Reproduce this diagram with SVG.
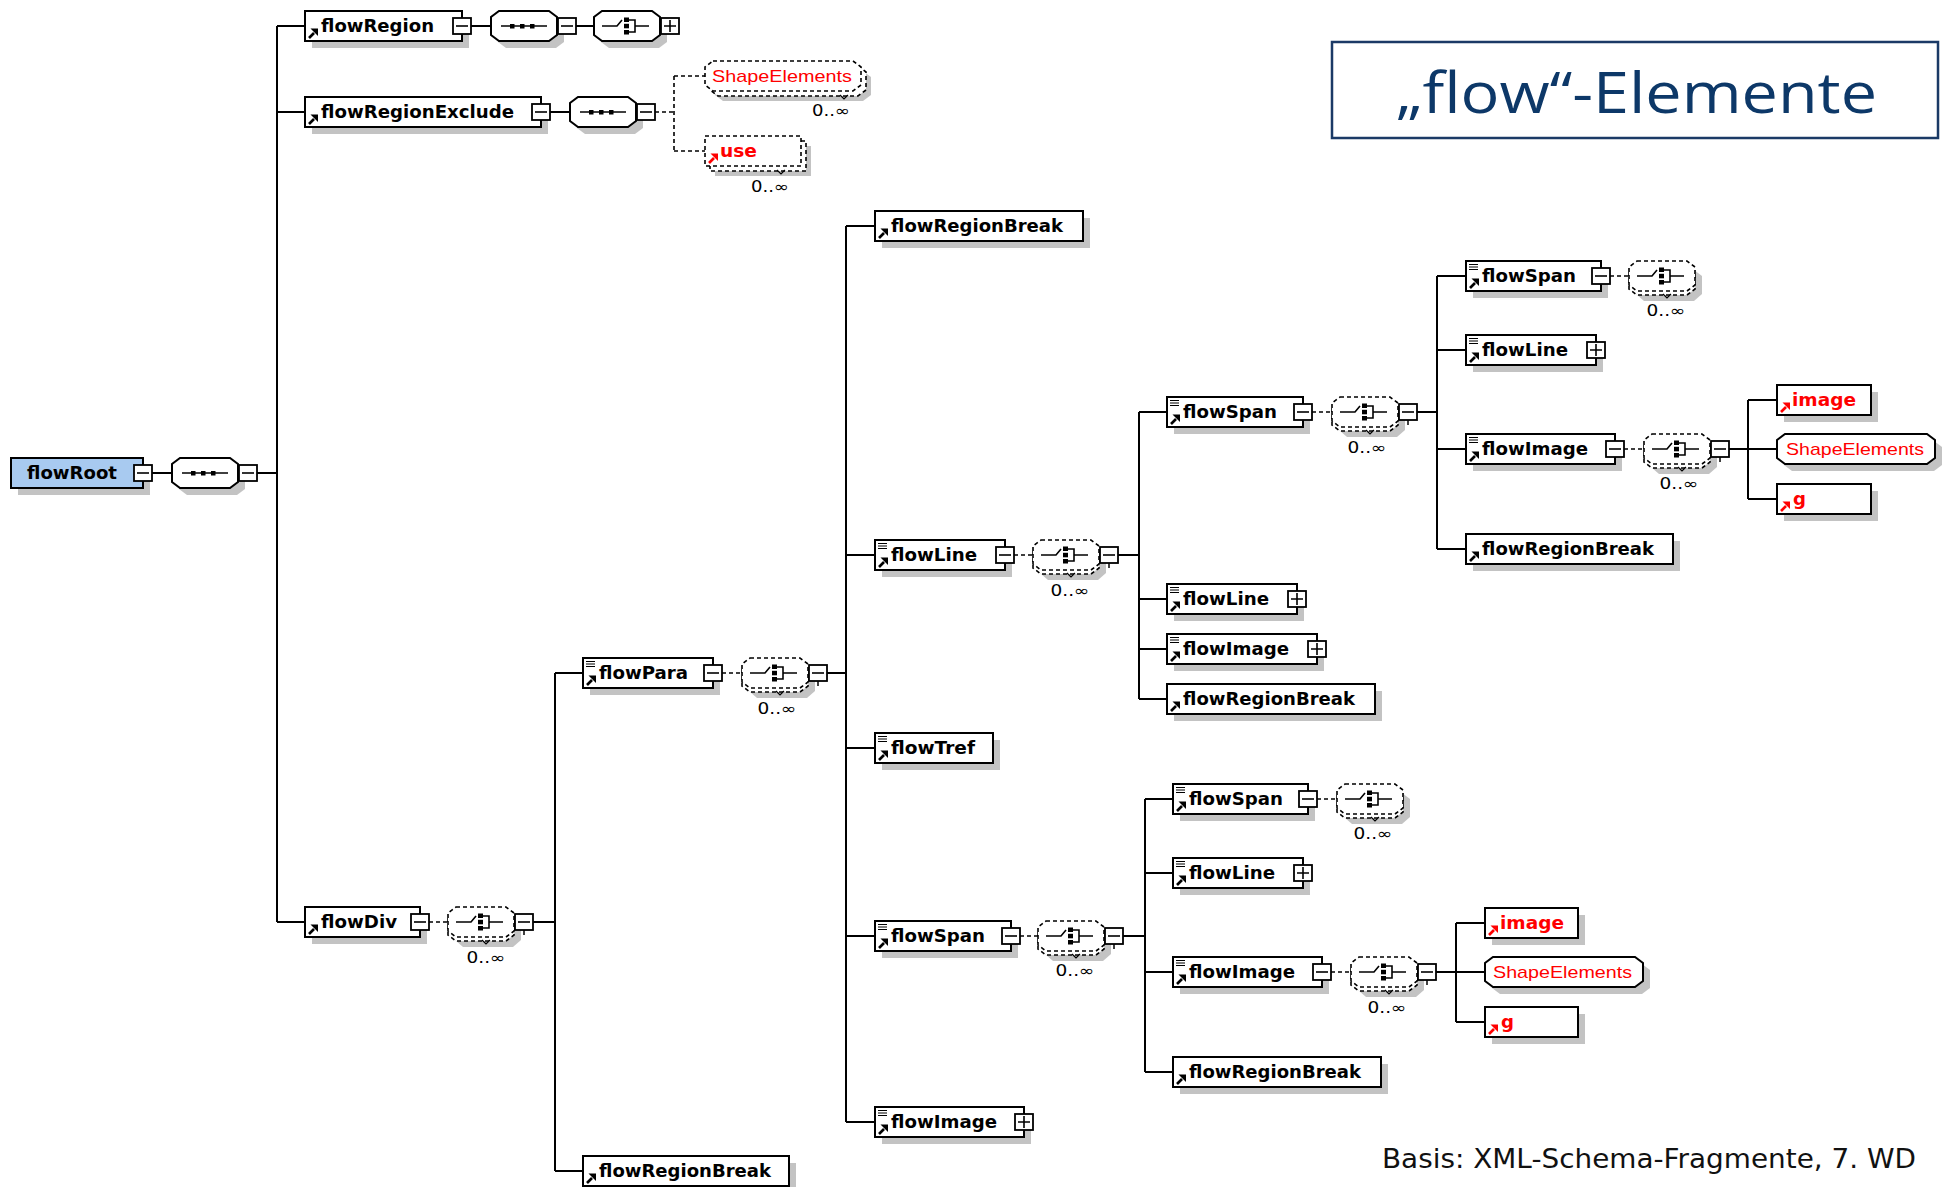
<svg xmlns="http://www.w3.org/2000/svg" width="1946" height="1187" viewBox="0 0 1946 1187">
<style>
.box{fill:#fff;stroke:#000;stroke-width:2}
.dbox{fill:#fff;stroke:#000;stroke-width:1.6;stroke-dasharray:4 3}
.sh{fill:#c3c3c3;stroke:none}
.ln{fill:none;stroke:#000;stroke-width:2}
.dl{fill:none;stroke:#000;stroke-width:1.6;stroke-dasharray:4 3}
.lbl{font-family:"DejaVu Sans",Verdana,sans-serif;font-weight:bold;font-size:17px;fill:#000}
.rl{font-family:"DejaVu Sans",Verdana,sans-serif;font-weight:bold;font-size:17px;fill:#f00}
.se{font-family:"Liberation Sans",Arial,sans-serif;font-size:17px;fill:#f00}
.mul{font-family:"DejaVu Sans",sans-serif;font-size:15px;fill:#000;text-anchor:middle}
</style>
<defs>
 <path id="mix" d="M3,3.5H12M3,6H12M3,8.5H12" stroke="#000" stroke-width="1.2" fill="none"/>
 <g id="arr"><path d="M4,-3L9,-8" stroke="#000" stroke-width="2.6"/><path d="M5.5,-12.5H13V-5Z" fill="#000"/></g>
 <g id="arrR"><path d="M4,-3L9,-8" stroke="#f00" stroke-width="2.6"/><path d="M5.5,-12.5H13V-5Z" fill="#f00"/></g>
 <g id="minus"><rect x="-9" y="-8" width="18" height="16" fill="#fff" stroke="#000" stroke-width="1.8"/><path d="M-6,0H6" stroke="#000" stroke-width="1.6"/></g>
 <g id="plus"><rect x="-9" y="-8" width="18" height="16" fill="#fff" stroke="#000" stroke-width="1.8"/><path d="M-6,0H6M0,-6V6" stroke="#000" stroke-width="1.6"/></g>
 <g id="minusT"><path d="M0,8V13" stroke="#000" stroke-width="1.5"/><rect x="-9" y="-8" width="18" height="16" fill="#fff" stroke="#000" stroke-width="1.8"/><path d="M-6,0H6" stroke="#000" stroke-width="1.6"/></g>
 <g id="solidOct">
  <path class="sh" d="M15,-8H65L73,-2V16L65,22H15L7,16V-2Z"/>
  <path class="box" d="M8,-15H58L66,-9V9L58,15H8L0,9V-9Z"/>
 </g>
 <g id="optOct">
  <path class="sh" d="M15,-6H65L73,0V18L65,25H15L7,18V0Z"/>
  <path class="dbox" d="M8,-11H58L66,-5V13L58,19H8L0,13V-5Z"/>
  <path class="dbox" d="M8,-15H58L66,-9V9L58,15H8L0,9V-9Z"/>
  <path d="M34,18L38,22L42,18" fill="none" stroke="#000" stroke-width="1.2"/>
 </g>
 <g id="seqS"><path d="M10,0H56" stroke="#000" stroke-width="1.6"/><rect x="19" y="-2" width="4.5" height="4.5"/><rect x="29" y="-2" width="4.5" height="4.5"/><rect x="39" y="-2" width="4.5" height="4.5"/></g>
 <g id="choS"><path d="M8,0H23L28,-6M35,-6H41V6H35M41,0H55" fill="none" stroke="#000" stroke-width="1.6"/><rect x="30" y="-8.5" width="5" height="4.5"/><rect x="30" y="-2.2" width="5" height="4.5"/><rect x="30" y="4" width="5" height="4.5"/></g>
</defs>
<rect width="1946" height="1187" fill="#fff"/>

<g id="connectors">
 <path class="ln" d="M152,473H172M257,473H277M277,26V922M277,26H305M277,112H305M277,922H305"/>
 <path class="ln" d="M471,26H491M576,26H594"/>
 <path class="ln" d="M550,112H570"/>
 <path class="dl" d="M655,112H674M674,76V151M674,76H705M674,151H705"/>
 <path class="dl" d="M429,922H448"/>
 <path class="ln" d="M533,922H555M555,673V1171M555,673H583M555,1171H583"/>
 <path class="dl" d="M722,673H742"/>
 <path class="ln" d="M827,673H846M846,226V1122M846,226H875M846,555H875M846,748H875M846,936H875M846,1122H875"/>
 <path class="dl" d="M1014,555H1033"/>
 <path class="ln" d="M1118,555H1139M1139,412V699M1139,412H1167M1139,599H1167M1139,649H1167M1139,699H1167"/>
 <path class="dl" d="M1312,412H1332"/>
 <path class="ln" d="M1417,412H1437M1437,276V549M1437,276H1466M1437,350H1466M1437,449H1466M1437,549H1466"/>
 <path class="dl" d="M1610,276H1629"/>
 <path class="dl" d="M1624,449H1644"/>
 <path class="ln" d="M1729,449H1748M1748,400V499M1748,400H1777M1748,449H1777M1748,499H1777"/>
 <path class="dl" d="M1020,936H1038"/>
 <path class="ln" d="M1123,936H1145M1145,799V1072M1145,799H1173M1145,873H1173M1145,972H1173M1145,1072H1173"/>
 <path class="dl" d="M1317,799H1337"/>
 <path class="dl" d="M1331,972H1351"/>
 <path class="ln" d="M1436,972H1456M1456,923V1022M1456,923H1485M1456,972H1485M1456,1022H1485"/>
</g>

<g id="n-flowRoot"><rect class="sh" x="18" y="465" width="132" height="30"/><rect x="11" y="458" width="132" height="30" fill="#a8caf0" stroke="#000" stroke-width="2"/><text class="lbl" x="27" y="479" textLength="90" lengthAdjust="spacingAndGlyphs">flowRoot</text><use href="#minus" x="143" y="473"/></g>
<g id="c-root-seq"><use href="#solidOct" x="172" y="473"/><use href="#seqS" x="172" y="473"/><use href="#minus" x="248" y="473"/></g>

<g id="n-flowRegion"><rect class="sh" x="312" y="18" width="157" height="30"/><rect class="box" x="305" y="11" width="157" height="30"/><use href="#arr" x="305" y="41"/><text class="lbl" x="321" y="32" textLength="113" lengthAdjust="spacingAndGlyphs">flowRegion</text><use href="#minus" x="462" y="26"/></g>
<g id="c-flowRegion-seq"><use href="#solidOct" x="491" y="26"/><use href="#seqS" x="491" y="26"/><use href="#minus" x="567" y="26"/></g>
<g id="c-flowRegion-choice"><use href="#solidOct" x="594" y="26"/><use href="#choS" x="594" y="26"/><use href="#plus" x="670" y="26"/></g>

<g id="n-flowRegionExclude"><rect class="sh" x="312" y="104" width="236" height="30"/><rect class="box" x="305" y="97" width="236" height="30"/><use href="#arr" x="305" y="127"/><text class="lbl" x="321" y="118" textLength="193" lengthAdjust="spacingAndGlyphs">flowRegionExclude</text><use href="#minus" x="541" y="112"/></g>
<g id="c-flowRegionExclude-seq"><use href="#solidOct" x="570" y="112"/><use href="#seqS" x="570" y="112"/><use href="#minus" x="646" y="112"/></g>

<g id="n-ShapeElements-1">
 <path class="sh" d="M723,71H863L871,77V95L863,101H723L715,95V77Z"/>
 <path class="dbox" d="M718,66H858L866,72V90L858,96H718L710,90V72Z"/>
 <path class="dbox" d="M713,61H853L861,67V85L853,91H713L705,85V67Z"/>
 <path d="M840,95L844,99L848,95" fill="none" stroke="#000" stroke-width="1.2"/>
 <text class="se" x="712" y="82" textLength="140" lengthAdjust="spacingAndGlyphs">ShapeElements</text>
 <text class="mul" x="831" y="116" textLength="38" lengthAdjust="spacingAndGlyphs">0..∞</text>
</g>
<g id="n-use">
 <rect class="sh" x="715" y="146" width="96" height="30"/>
 <rect class="dbox" x="710" y="141" width="96" height="30"/>
 <rect class="dbox" x="705" y="136" width="96" height="30"/>
 <path d="M777,170L781,174L785,170" fill="none" stroke="#000" stroke-width="1.2"/>
 <use href="#arrR" x="705" y="166"/>
 <text class="rl" x="720" y="157" textLength="37" lengthAdjust="spacingAndGlyphs">use</text>
 <text class="mul" x="770" y="192" textLength="38" lengthAdjust="spacingAndGlyphs">0..∞</text>
</g>

<g id="n-flowDiv"><rect class="sh" x="312" y="914" width="115" height="30"/><rect class="box" x="305" y="907" width="115" height="30"/><use href="#arr" x="305" y="937"/><text class="lbl" x="321" y="928" textLength="76" lengthAdjust="spacingAndGlyphs">flowDiv</text><use href="#minus" x="420" y="922"/></g>
<g id="c-flowDiv-choice"><use href="#optOct" x="448" y="922"/><use href="#choS" x="448" y="922"/><use href="#minusT" x="524" y="922"/><text class="mul" x="486" y="963" textLength="39" lengthAdjust="spacingAndGlyphs">0..∞</text></g>

<g id="n-flowPara"><rect class="sh" x="590" y="665" width="130" height="30"/><rect class="box" x="583" y="658" width="130" height="30"/><use href="#mix" x="583" y="658"/><use href="#arr" x="583" y="688"/><text class="lbl" x="599" y="679" textLength="89" lengthAdjust="spacingAndGlyphs">flowPara</text><use href="#minus" x="713" y="673"/></g>
<g id="c-flowPara-choice"><use href="#optOct" x="742" y="673"/><use href="#choS" x="742" y="673"/><use href="#minusT" x="818" y="673"/><text class="mul" x="777" y="714" textLength="39" lengthAdjust="spacingAndGlyphs">0..∞</text></g>

<g id="n-flowRegionBreak-1"><rect class="sh" x="590" y="1163" width="206" height="30"/><rect class="box" x="583" y="1156" width="206" height="30"/><use href="#arr" x="583" y="1186"/><text class="lbl" x="599" y="1177" textLength="172" lengthAdjust="spacingAndGlyphs">flowRegionBreak</text></g>

<g id="n-flowRegionBreak-2"><rect class="sh" x="882" y="218" width="208" height="30"/><rect class="box" x="875" y="211" width="208" height="30"/><use href="#arr" x="875" y="241"/><text class="lbl" x="891" y="232" textLength="172" lengthAdjust="spacingAndGlyphs">flowRegionBreak</text></g>

<g id="n-flowLine-1"><rect class="sh" x="882" y="547" width="130" height="30"/><rect class="box" x="875" y="540" width="130" height="30"/><use href="#mix" x="875" y="540"/><use href="#arr" x="875" y="570"/><text class="lbl" x="891" y="561" textLength="86" lengthAdjust="spacingAndGlyphs">flowLine</text><use href="#minus" x="1005" y="555"/></g>
<g id="c-flowLine-choice"><use href="#optOct" x="1033" y="555"/><use href="#choS" x="1033" y="555"/><use href="#minusT" x="1109" y="555"/><text class="mul" x="1070" y="596" textLength="39" lengthAdjust="spacingAndGlyphs">0..∞</text></g>

<g id="n-flowTref"><rect class="sh" x="882" y="740" width="118" height="30"/><rect class="box" x="875" y="733" width="118" height="30"/><use href="#mix" x="875" y="733"/><use href="#arr" x="875" y="763"/><text class="lbl" x="891" y="754" textLength="84" lengthAdjust="spacingAndGlyphs">flowTref</text></g>

<g id="n-flowSpan-1"><rect class="sh" x="882" y="928" width="136" height="30"/><rect class="box" x="875" y="921" width="136" height="30"/><use href="#mix" x="875" y="921"/><use href="#arr" x="875" y="951"/><text class="lbl" x="891" y="942" textLength="94" lengthAdjust="spacingAndGlyphs">flowSpan</text><use href="#minus" x="1011" y="936"/></g>
<g id="c-flowSpan1-choice"><use href="#optOct" x="1038" y="936"/><use href="#choS" x="1038" y="936"/><use href="#minusT" x="1114" y="936"/><text class="mul" x="1075" y="976" textLength="39" lengthAdjust="spacingAndGlyphs">0..∞</text></g>

<g id="n-flowImage-1"><rect class="sh" x="882" y="1114" width="149" height="30"/><rect class="box" x="875" y="1107" width="149" height="30"/><use href="#mix" x="875" y="1107"/><use href="#arr" x="875" y="1137"/><text class="lbl" x="891" y="1128" textLength="106" lengthAdjust="spacingAndGlyphs">flowImage</text><use href="#plus" x="1024" y="1122"/></g>

<g id="n-flowSpan-2"><rect class="sh" x="1174" y="404" width="136" height="30"/><rect class="box" x="1167" y="397" width="136" height="30"/><use href="#mix" x="1167" y="397"/><use href="#arr" x="1167" y="427"/><text class="lbl" x="1183" y="418" textLength="94" lengthAdjust="spacingAndGlyphs">flowSpan</text><use href="#minus" x="1303" y="412"/></g>
<g id="c-flowSpan2-choice"><use href="#optOct" x="1332" y="412"/><use href="#choS" x="1332" y="412"/><use href="#minusT" x="1408" y="412"/><text class="mul" x="1367" y="453" textLength="39" lengthAdjust="spacingAndGlyphs">0..∞</text></g>

<g id="n-flowLine-2"><rect class="sh" x="1174" y="591" width="130" height="30"/><rect class="box" x="1167" y="584" width="130" height="30"/><use href="#mix" x="1167" y="584"/><use href="#arr" x="1167" y="614"/><text class="lbl" x="1183" y="605" textLength="86" lengthAdjust="spacingAndGlyphs">flowLine</text><use href="#plus" x="1297" y="599"/></g>
<g id="n-flowImage-2"><rect class="sh" x="1174" y="641" width="150" height="30"/><rect class="box" x="1167" y="634" width="150" height="30"/><use href="#mix" x="1167" y="634"/><use href="#arr" x="1167" y="664"/><text class="lbl" x="1183" y="655" textLength="106" lengthAdjust="spacingAndGlyphs">flowImage</text><use href="#plus" x="1317" y="649"/></g>
<g id="n-flowRegionBreak-3"><rect class="sh" x="1174" y="691" width="208" height="30"/><rect class="box" x="1167" y="684" width="208" height="30"/><use href="#arr" x="1167" y="714"/><text class="lbl" x="1183" y="705" textLength="172" lengthAdjust="spacingAndGlyphs">flowRegionBreak</text></g>

<g id="n-flowSpan-3"><rect class="sh" x="1473" y="268" width="135" height="30"/><rect class="box" x="1466" y="261" width="135" height="30"/><use href="#mix" x="1466" y="261"/><use href="#arr" x="1466" y="291"/><text class="lbl" x="1482" y="282" textLength="94" lengthAdjust="spacingAndGlyphs">flowSpan</text><use href="#minus" x="1601" y="276"/></g>
<g id="c-flowSpan3-choice"><use href="#optOct" x="1629" y="276"/><use href="#choS" x="1629" y="276"/><text class="mul" x="1666" y="316" textLength="39" lengthAdjust="spacingAndGlyphs">0..∞</text></g>
<g id="n-flowLine-3"><rect class="sh" x="1473" y="342" width="130" height="30"/><rect class="box" x="1466" y="335" width="130" height="30"/><use href="#mix" x="1466" y="335"/><use href="#arr" x="1466" y="365"/><text class="lbl" x="1482" y="356" textLength="86" lengthAdjust="spacingAndGlyphs">flowLine</text><use href="#plus" x="1596" y="350"/></g>
<g id="n-flowImage-3"><rect class="sh" x="1473" y="441" width="149" height="30"/><rect class="box" x="1466" y="434" width="149" height="30"/><use href="#mix" x="1466" y="434"/><use href="#arr" x="1466" y="464"/><text class="lbl" x="1482" y="455" textLength="106" lengthAdjust="spacingAndGlyphs">flowImage</text><use href="#minus" x="1615" y="449"/></g>
<g id="c-flowImage3-choice"><use href="#optOct" x="1644" y="449"/><use href="#choS" x="1644" y="449"/><use href="#minusT" x="1720" y="449"/><text class="mul" x="1679" y="489" textLength="39" lengthAdjust="spacingAndGlyphs">0..∞</text></g>
<g id="n-flowRegionBreak-4"><rect class="sh" x="1473" y="541" width="207" height="30"/><rect class="box" x="1466" y="534" width="207" height="30"/><use href="#arr" x="1466" y="564"/><text class="lbl" x="1482" y="555" textLength="172" lengthAdjust="spacingAndGlyphs">flowRegionBreak</text></g>

<g id="n-image-1"><rect class="sh" x="1784" y="392" width="94" height="30"/><rect class="box" x="1777" y="385" width="94" height="30"/><use href="#arrR" x="1777" y="415"/><text class="rl" x="1792" y="406" textLength="64" lengthAdjust="spacingAndGlyphs">image</text></g>
<g id="n-ShapeElements-2"><path class="sh" d="M1792,441H1934L1942,447V465L1934,471H1792L1784,465V447Z"/><path class="box" d="M1785,434H1927L1935,440V458L1927,464H1785L1777,458V440Z"/><text class="se" x="1786" y="455" textLength="138" lengthAdjust="spacingAndGlyphs">ShapeElements</text></g>
<g id="n-g-1"><rect class="sh" x="1784" y="491" width="94" height="30"/><rect class="box" x="1777" y="484" width="94" height="30"/><use href="#arrR" x="1777" y="514"/><text class="rl" x="1793" y="505" textLength="13" lengthAdjust="spacingAndGlyphs">g</text></g>

<g id="n-flowSpan-4"><rect class="sh" x="1180" y="791" width="135" height="30"/><rect class="box" x="1173" y="784" width="135" height="30"/><use href="#mix" x="1173" y="784"/><use href="#arr" x="1173" y="814"/><text class="lbl" x="1189" y="805" textLength="94" lengthAdjust="spacingAndGlyphs">flowSpan</text><use href="#minus" x="1308" y="799"/></g>
<g id="c-flowSpan4-choice"><use href="#optOct" x="1337" y="799"/><use href="#choS" x="1337" y="799"/><text class="mul" x="1373" y="839" textLength="39" lengthAdjust="spacingAndGlyphs">0..∞</text></g>
<g id="n-flowLine-4"><rect class="sh" x="1180" y="865" width="130" height="30"/><rect class="box" x="1173" y="858" width="130" height="30"/><use href="#mix" x="1173" y="858"/><use href="#arr" x="1173" y="888"/><text class="lbl" x="1189" y="879" textLength="86" lengthAdjust="spacingAndGlyphs">flowLine</text><use href="#plus" x="1303" y="873"/></g>
<g id="n-flowImage-4"><rect class="sh" x="1180" y="964" width="149" height="30"/><rect class="box" x="1173" y="957" width="149" height="30"/><use href="#mix" x="1173" y="957"/><use href="#arr" x="1173" y="987"/><text class="lbl" x="1189" y="978" textLength="106" lengthAdjust="spacingAndGlyphs">flowImage</text><use href="#minus" x="1322" y="972"/></g>
<g id="c-flowImage4-choice"><use href="#optOct" x="1351" y="972"/><use href="#choS" x="1351" y="972"/><use href="#minusT" x="1427" y="972"/><text class="mul" x="1387" y="1013" textLength="39" lengthAdjust="spacingAndGlyphs">0..∞</text></g>
<g id="n-flowRegionBreak-5"><rect class="sh" x="1180" y="1064" width="208" height="30"/><rect class="box" x="1173" y="1057" width="208" height="30"/><use href="#arr" x="1173" y="1087"/><text class="lbl" x="1189" y="1078" textLength="172" lengthAdjust="spacingAndGlyphs">flowRegionBreak</text></g>

<g id="n-image-2"><rect class="sh" x="1492" y="915" width="93" height="30"/><rect class="box" x="1485" y="908" width="93" height="30"/><use href="#arrR" x="1485" y="938"/><text class="rl" x="1500" y="929" textLength="64" lengthAdjust="spacingAndGlyphs">image</text></g>
<g id="n-ShapeElements-3"><path class="sh" d="M1500,964H1642L1650,970V988L1642,994H1500L1492,988V970Z"/><path class="box" d="M1493,957H1635L1643,963V981L1635,987H1493L1485,981V963Z"/><text class="se" x="1493" y="978" textLength="139" lengthAdjust="spacingAndGlyphs">ShapeElements</text></g>
<g id="n-g-2"><rect class="sh" x="1492" y="1014" width="93" height="30"/><rect class="box" x="1485" y="1007" width="93" height="30"/><use href="#arrR" x="1485" y="1037"/><text class="rl" x="1501" y="1028" textLength="13" lengthAdjust="spacingAndGlyphs">g</text></g>

<g id="title"><rect x="1332" y="42" width="606" height="96" fill="#fff" stroke="#1b3a66" stroke-width="2.5"/><text x="1396" y="113" font-family="'Open Sans','Noto Sans',sans-serif" font-size="57" fill="#0d3868" textLength="481" lengthAdjust="spacingAndGlyphs">„flow“-Elemente</text></g>
<g id="footer"><text x="1382" y="1168" font-family="'DejaVu Sans',sans-serif" font-size="27" fill="#111" textLength="534" lengthAdjust="spacingAndGlyphs">Basis: XML-Schema-Fragmente, 7. WD</text></g>
</svg>
